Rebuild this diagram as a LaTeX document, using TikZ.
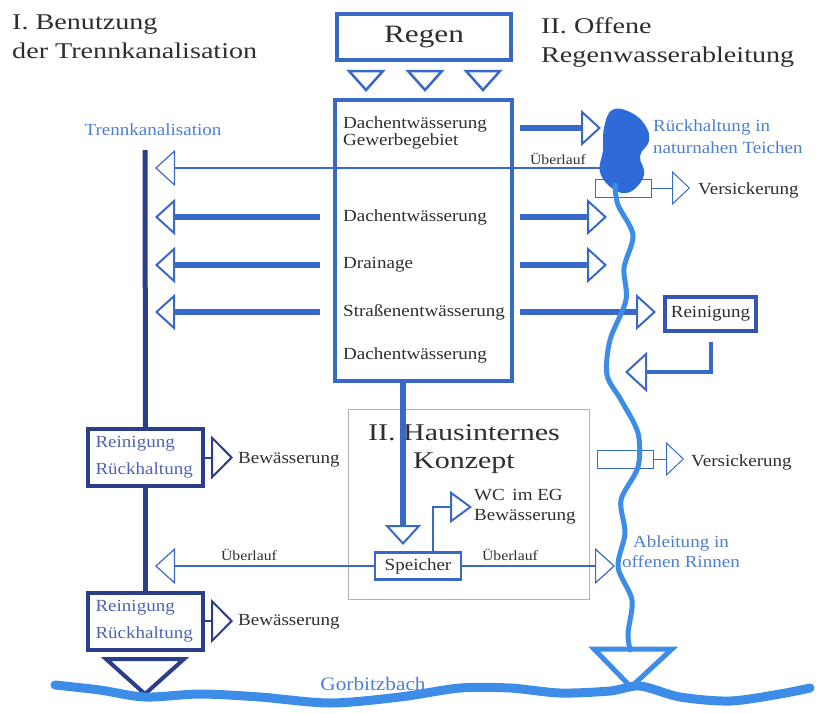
\documentclass[tikz,border=0pt]{standalone}
\usepackage{fontspec}
\setmainfont{Liberation Serif}
\newfontfamily\titlefont[FakeStretch=1.25]{Liberation Serif}
\newfontfamily\labelfont[FakeStretch=1.12]{Liberation Serif}
\usetikzlibrary{arrows.meta}

\definecolor{rainblue}{HTML}{3868C8}
\definecolor{reinblue}{HTML}{3556B0}
\definecolor{sewernavy}{HTML}{2B3E8C}
\definecolor{streamblue}{HTML}{3D8DE8}
\definecolor{pondblue}{HTML}{2E6BD8}
\definecolor{inkgray}{HTML}{2E2E2E}
\definecolor{labelblue}{HTML}{4D7FD0}
\definecolor{boxtext}{HTML}{4F63B5}

\tikzset{
	title/.style={font=\titlefont\fontsize{22.5}{29}\selectfont, text=inkgray, inner sep=0pt, align=left},
	txt/.style={font=\labelfont\fontsize{17}{20}\selectfont, text=inkgray, inner sep=0pt},
	bluetxt/.style={txt, text=labelblue},
	smalltxt/.style={font=\labelfont\fontsize{14}{16}\selectfont, text=inkgray, inner sep=0pt},
	thickbox/.style={draw=rainblue, line width=4pt},
	navybox/.style={draw=sewernavy, line width=4pt, text=boxtext, font=\labelfont\fontsize{17}{27}\selectfont,
		align=left, text width=100pt, inner xsep=7.5pt, inner ysep=0pt, minimum height=57pt},
	soakbox/.style={draw=rainblue, line width=1pt, minimum width=56pt, minimum height=18pt, inner sep=0pt},
	sewer/.style={draw=sewernavy, line width=5pt},
	bigarrow/.style={draw=rainblue, line width=6pt, -{Triangle[open, length=20pt, width=36pt, line width=2pt]}},
	thinarrow/.style={draw=rainblue, line width=1.2pt, -{Triangle[open, length=20pt, width=36pt]}},
	soakarrow/.style={draw=rainblue, line width=1pt, -{Triangle[open, length=18pt, width=34pt]}},
	navyarrow/.style={draw=sewernavy, line width=2pt, -{Triangle[open, length=22pt, width=44pt]}},
	wcarrow/.style={draw=rainblue, line width=2.5pt, -{Triangle[open, length=22pt, width=32pt, line width=2pt]}},
	returnarrow/.style={draw=rainblue, line width=4pt, -{Triangle[open, length=22pt, width=40pt, line width=2pt]}},
	dropmark/.style={draw=rainblue, line width=2.5pt},
}

\begin{document}
\begin{tikzpicture}[x=1pt,y=-1pt]
	\useasboundingbox (0,0) rectangle (816,713);

	% headings
	\node[title, anchor=north west] (ttl1) at (12,15) {I. Benutzung\\der Trennkanalisation};
	\node[title, anchor=north west] (ttl2) at (541,17) {II. Offene\\Regenwasserableitung};

	% rain and catchment
	\node[thickbox, minimum width=174pt, minimum height=46pt, text=inkgray,
		font=\titlefont\fontsize{25}{28}\selectfont] (regen) at (424,37) {Regen};
	\foreach \tx in {366,425,483}
		\draw[dropmark] (\tx-17,71) -- (\tx+17,71) -- (\tx,90) -- cycle;
	\node[thickbox, minimum width=177pt, minimum height=281pt] (dach) at (423.5,240.5) {};
	\node[txt, anchor=west, align=left, font=\labelfont\fontsize{17}{17}\selectfont] (dgew) at (343,133) {Dachentwässerung\\Gewerbegebiet};
	\node[txt, anchor=west] (dach1) at (343,217) {Dachentwässerung};
	\node[txt, anchor=west] (drain) at (343,265) {Drainage};
	\node[txt, anchor=west] (strasse) at (343,312) {Straßenentwässerung};
	\node[txt, anchor=west] (dach2) at (343,355) {Dachentwässerung};

	% I. Trennkanalisation
	\coordinate (tktop) at (145,150);
	\coordinate (tk) at (155,150);
	\node[bluetxt] (tklabel) at (153,130) {Trennkanalisation};
	\node[navybox] (rr1) at (145.5,457.5) {Reinigung\\Rückhaltung};
	\node[navybox] (rr2) at (145.5,621) {Reinigung\\Rückhaltung};
	\draw[sewer] (tktop) -- (rr1.north);
	\draw[sewer] (rr1.south) -- (rr2.north);
	\draw[sewernavy, line width=4pt] (106,659) -- (184,659) -- (145,694) -- cycle;
	\node[txt, anchor=west] (bew1) at (238,460) {Bewässerung};
	\node[txt, anchor=west] (bew2) at (238,622) {Bewässerung};
	\draw[navyarrow, shorten >=5pt] (rr1.east) -- (rr1.east -| bew1.west);
	\draw[navyarrow, shorten >=5pt] (rr2.east) -- (rr2.east -| bew2.west);
	\draw[bigarrow] ([xshift=-23pt]dach1.west) -- (dach1.west -| tk);
	\draw[bigarrow] ([xshift=-23pt]drain.west) -- (drain.west -| tk);
	\draw[bigarrow] ([xshift=-23pt]strasse.west) -- (strasse.west -| tk);
	\coordinate (pondleft) at (600,168);
	\draw[thinarrow] (pondleft) -- (pondleft -| tk);
	\node[smalltxt] (ueb1) at (558,159) {Überlauf};

	% II. Hausinternes Konzept
	\node[draw=gray!60, line width=0.8pt, minimum width=241pt, minimum height=190pt] (haus) at (468.5,504) {};
	\node[title, align=center, font=\titlefont\fontsize{24}{28}\selectfont] (hausttl) at (464,449) {II. Hausinternes\\Konzept};
	\node[txt, draw=rainblue, line width=2.5pt, minimum width=86pt, minimum height=27pt] (speicher) at (418,566) {Speicher};
	\coordinate (drop) at (403,545);
	\draw[bigarrow] (dach.south -| drop) -- (drop);
	\node[txt, anchor=west, align=left] (wc) at (474,507) {WC\, im EG\\Bewässerung};
	\draw[wcarrow, shorten >=2pt] ([xshift=15pt]speicher.north) |- (wc.west);
	\coordinate (rinne) at (615,566);
	\draw[thinarrow] (speicher.east) -- (rinne);
	\draw[thinarrow] (speicher.west) -- (speicher.west -| tk);
	\node[smalltxt] (ueb2) at (249,555) {Überlauf};
	\node[smalltxt] (ueb3) at (510,555) {Überlauf};

	% II. offene Ableitung
	\coordinate (pondin) at (601,128);
	\coordinate (opencol) at (607,0);
	\node[txt, thickbox, draw=reinblue, minimum width=91pt, minimum height=34pt] (reinig) at (710.5,314) {Reinigung};
	\draw[bigarrow] ([xshift=6pt]pondin -| dach.east) -- (pondin);
	\draw[bigarrow] ([xshift=6pt]dach1 -| dach.east) -- (dach1 -| opencol);
	\draw[bigarrow] ([xshift=6pt]drain -| dach.east) -- (drain -| opencol);
	\draw[bigarrow, shorten >=7pt] ([xshift=6pt]strasse -| dach.east) -- (strasse -| reinig.west);
	\coordinate (backtip) at (625,372);
	\draw[returnarrow] ([yshift=-9pt]reinig.south) |- (backtip);
	\node[soakbox] (vs1) at (623,188) {};
	\node[soakbox] (vs2) at (625,459) {};
	\node[txt, anchor=west] (vers1) at (698,190) {Versickerung};
	\node[txt, anchor=west] (vers2) at (691,462) {Versickerung};
	\draw[soakarrow, shorten >=8pt] (vs1.east) -- (vs1.east -| vers1.west);
	\draw[soakarrow, shorten >=7pt] (vs2.east) -- (vs2.east -| vers2.west);
	\fill[pondblue] plot[smooth cycle, tension=0.7] coordinates {(612,110) (630,112) (645,125) (649,141) (640,156)
		(644,175) (630,192) (613,189) (600,172) (603,150) (604,128)};
	\draw[streamblue, line width=5pt, line cap=round] plot[smooth] coordinates {(615,185) (618,205) (633,235) (624,268)
		(626,300) (610,340) (607,375) (621,400) (638,433) (638,467) (621,500) (625,533) (618,567) (632,600)
		(628,633) (630,650)};
	\draw[streamblue, line width=5pt] (594,649) -- (672,649) -- (631,687) -- cycle;
	\node[bluetxt, anchor=west, align=left, font=\labelfont\fontsize{17}{22}\selectfont] (pondtxt) at (653,137) {Rückhaltung in\\naturnahen Teichen};
	\node[bluetxt, align=center] (rinnetxt) at (681,552) {Ableitung in\\offenen Rinnen};

	% Gorbitzbach
	\draw[streamblue, line width=9pt, line cap=round] plot[smooth] coordinates {(55,685) (100,690) (145,697) (200,694)
		(260,697) (330,703) (400,697) (460,688) (510,688) (560,693) (610,691) (640,686) (680,697) (730,701)
		(780,694) (810,688)};
	\node[bluetxt, font=\labelfont\fontsize{19}{21}\selectfont] (bach) at (373,684) {Gorbitzbach};
\end{tikzpicture}
\end{document}
